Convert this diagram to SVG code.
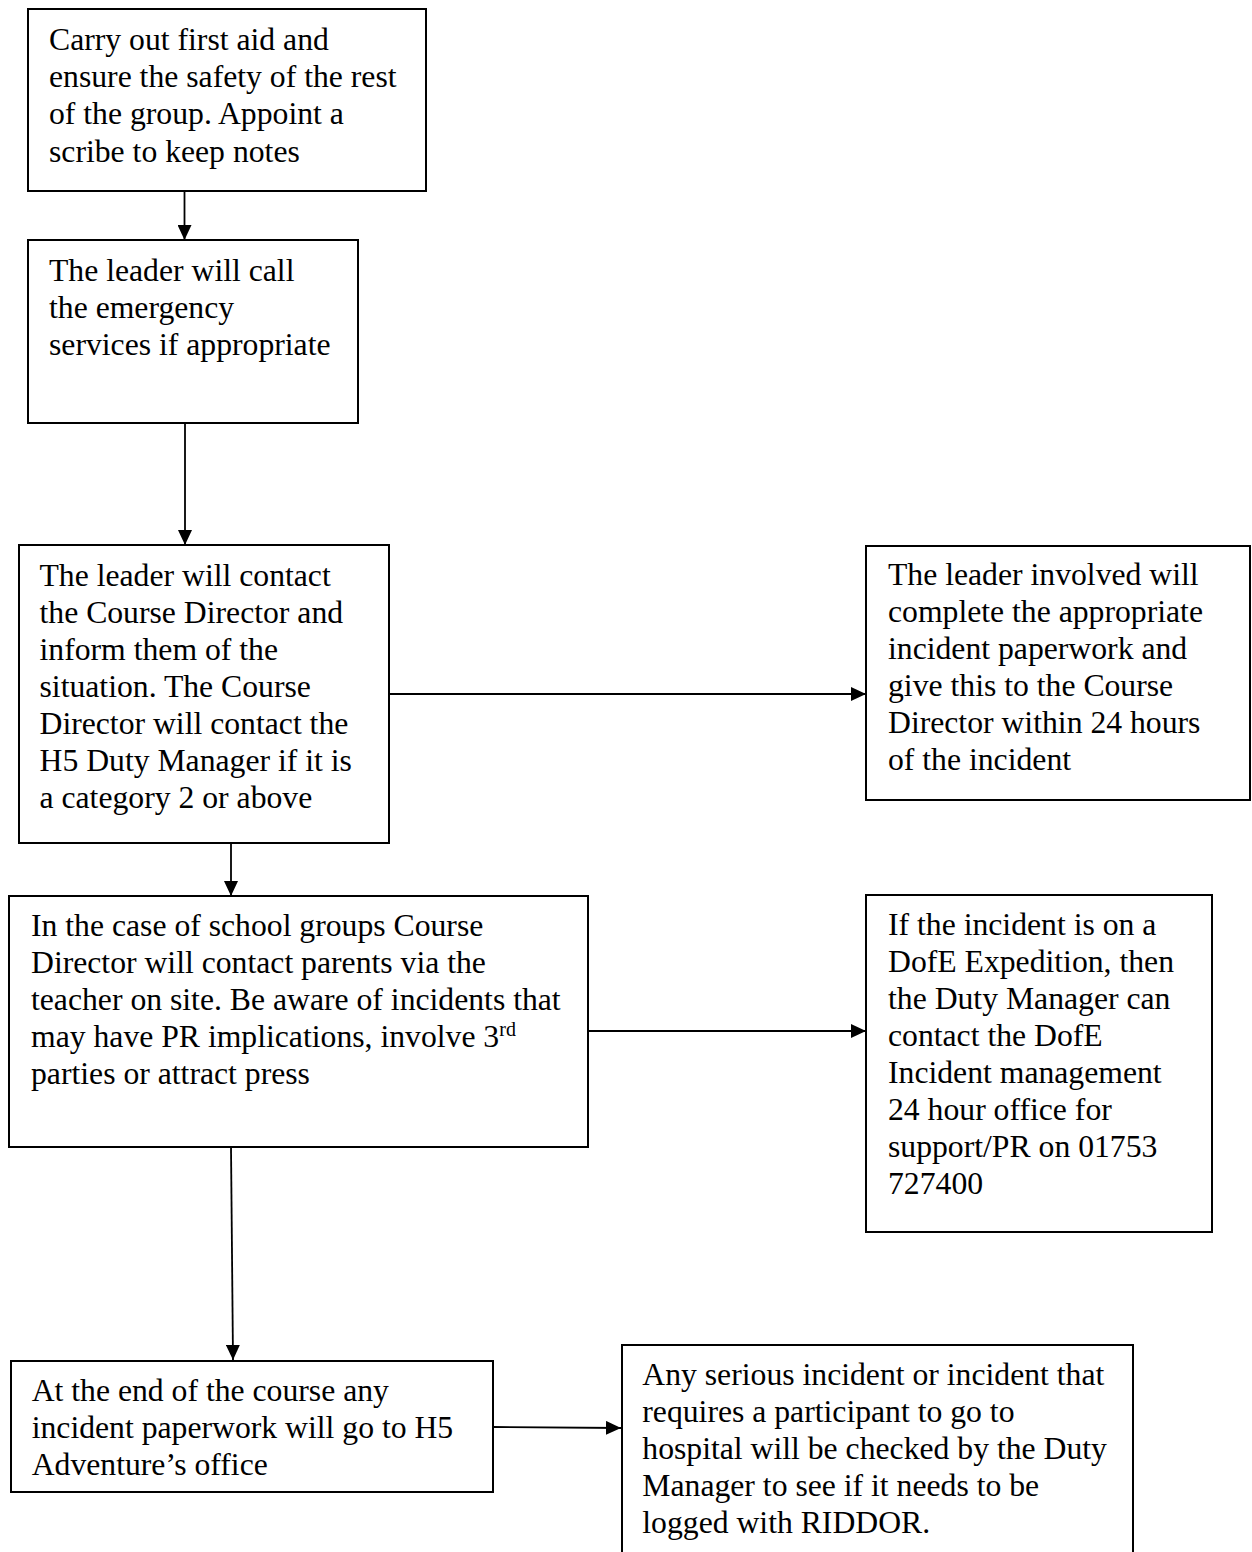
<svg xmlns="http://www.w3.org/2000/svg" width="1252" height="1552" viewBox="0 0 1252 1552">
<style>
.box{fill:#fff;stroke:#000;stroke-width:2}
.t{font-family:"Liberation Serif","Times New Roman",serif;font-size:31.7px;fill:#000}
.c{stroke:#000;stroke-width:1.8;fill:none}
</style>
<defs>
<marker id="ah" markerUnits="userSpaceOnUse" markerWidth="15" markerHeight="14" refX="15" refY="7" orient="auto">
<path d="M0,0 L15,7 L0,14 z" fill="#000"/>
</marker>
</defs>
<rect width="1252" height="1552" fill="#fff"/>
<g id="connectors">
<line class="c" x1="184.5" y1="191" x2="184.5" y2="240" marker-end="url(#ah)"/>
<line class="c" x1="185" y1="423" x2="185" y2="545" marker-end="url(#ah)"/>
<line class="c" x1="389" y1="694" x2="866" y2="694" marker-end="url(#ah)"/>
<line class="c" x1="231" y1="843" x2="231" y2="896" marker-end="url(#ah)"/>
<line class="c" x1="588" y1="1031" x2="866" y2="1031" marker-end="url(#ah)"/>
<line class="c" x1="231" y1="1147" x2="233" y2="1360" marker-end="url(#ah)"/>
<line class="c" x1="493" y1="1427" x2="621" y2="1428" marker-end="url(#ah)"/>
</g>
<g id="n1">
<rect class="box" x="28" y="9" width="398" height="182"/>
<text class="t" x="49"><tspan x="49" y="50">Carry out first aid and</tspan><tspan x="49" y="87">ensure the safety of the rest</tspan><tspan x="49" y="124">of the group. Appoint a</tspan><tspan x="49" y="161.5">scribe to keep notes</tspan></text>
</g>
<g id="n2">
<rect class="box" x="28" y="240" width="330" height="183"/>
<text class="t"><tspan x="49" y="281">The leader will call</tspan><tspan x="49" y="318">the emergency</tspan><tspan x="49" y="355">services if appropriate</tspan></text>
</g>
<g id="n3">
<rect class="box" x="19" y="545" width="370" height="298"/>
<text class="t"><tspan x="39.5" y="585.5">The leader will contact</tspan><tspan x="39.5" y="622.5">the Course Director and</tspan><tspan x="39.5" y="659.5">inform them of the</tspan><tspan x="39.5" y="696.5">situation. The Course</tspan><tspan x="39.5" y="733.5">Director will contact the</tspan><tspan x="39.5" y="770.5">H5 Duty Manager if it is</tspan><tspan x="39.5" y="807.5">a category 2 or above</tspan></text>
</g>
<g id="n4">
<rect class="box" x="866" y="546" width="384" height="254"/>
<text class="t"><tspan x="888" y="585">The leader involved will</tspan><tspan x="888" y="622">complete the appropriate</tspan><tspan x="888" y="659">incident paperwork and</tspan><tspan x="888" y="696">give this to the Course</tspan><tspan x="888" y="733">Director within 24 hours</tspan><tspan x="888" y="770">of the incident</tspan></text>
</g>
<g id="n5">
<rect class="box" x="9" y="896" width="579" height="251"/>
<text class="t"><tspan x="31" y="936">In the case of school groups Course</tspan><tspan x="31" y="973">Director will contact parents via the</tspan><tspan x="31" y="1010">teacher on site. Be aware of incidents that</tspan><tspan x="31" y="1047">may have PR implications, involve 3<tspan font-size="20px" dy="-11">rd</tspan></tspan><tspan x="31" y="1084">parties or attract press</tspan></text>
</g>
<g id="n6">
<rect class="box" x="866" y="895" width="346" height="337"/>
<text class="t"><tspan x="888" y="935">If the incident is on a</tspan><tspan x="888" y="972">DofE Expedition, then</tspan><tspan x="888" y="1009">the Duty Manager can</tspan><tspan x="888" y="1046">contact the DofE</tspan><tspan x="888" y="1083">Incident management</tspan><tspan x="888" y="1120">24 hour office for</tspan><tspan x="888" y="1157">support/PR on 01753</tspan><tspan x="888" y="1194">727400</tspan></text>
</g>
<g id="n7">
<rect class="box" x="11" y="1361" width="482" height="131"/>
<text class="t"><tspan x="31.7" y="1400.7">At the end of the course any</tspan><tspan x="31.7" y="1438">incident paperwork will go to H5</tspan><tspan x="31.7" y="1475">Adventure’s office</tspan></text>
</g>
<g id="n8">
<rect class="box" x="622" y="1345" width="511" height="230"/>
<text class="t"><tspan x="642.3" y="1385">Any serious incident or incident that</tspan><tspan x="642.3" y="1422">requires a participant to go to</tspan><tspan x="642.3" y="1459">hospital will be checked by the Duty</tspan><tspan x="642.3" y="1496">Manager to see if it needs to be</tspan><tspan x="642.3" y="1533">logged with RIDDOR.</tspan></text>
</g>
</svg>
